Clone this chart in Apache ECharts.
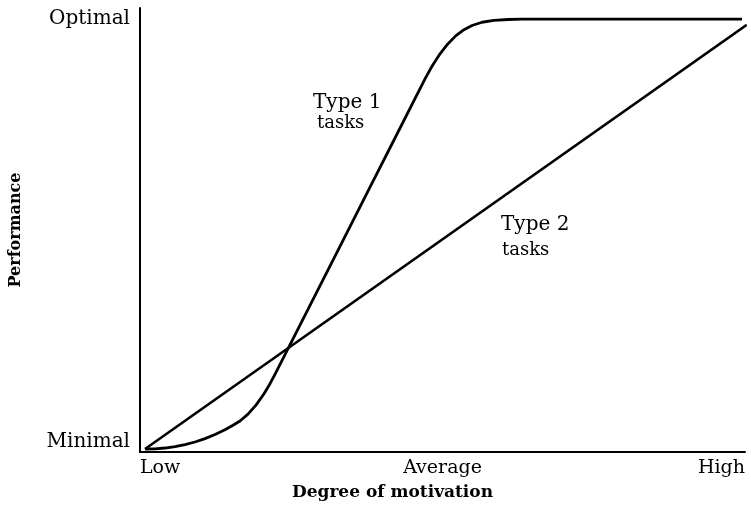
<!DOCTYPE html>
<html>
<head>
<meta charset="utf-8">
<script src="https://cdn.jsdelivr.net/npm/echarts@6/dist/echarts.min.js"></script>
<style>
  html, body { margin: 0; padding: 0; background: #fff; }
  #chart { width: 751px; height: 516px; }
</style>
</head>
<body>
<div id="chart"></div>
<script>
// motivation (0 = low, 100 = high) vs performance (0 = minimal, 100 = optimal)
const type1Points = [
    [0.83, 0.69], [2.48, 0.74], [4.13, 0.92], [5.79, 1.25], [7.44, 1.71],
    [9.09, 2.31], [10.74, 3.09], [12.40, 4.04], [14.05, 5.15], [15.37, 6.17],
    [16.53, 7.16], [17.85, 8.73], [19.17, 10.81], [20.50, 13.44], [21.49, 15.77],
    [22.31, 17.94], [26.78, 30.23], [33.06, 47.48], [38.02, 61.13], [42.15, 72.49],
    [47.11, 86.14], [48.26, 89.05], [49.59, 91.92], [50.91, 94.27], [52.23, 96.12],
    [53.55, 97.48], [54.88, 98.45], [56.53, 99.21], [58.51, 99.65], [60.83, 99.84],
    [63.14, 99.91], [99.50, 99.91]
];
const type2Points = [[0.83, 0.69], [100.3, 98.6]];

const xTickValues = [0, 50, 100];
const xTickLabels = ['Low', 'Average', 'High'];
const yTickValues = [2.3, 100];
const yTickLabels = ['Minimal', 'Optimal'];

const serif = '"DejaVu Serif", "Liberation Serif", serif';

function getOption() {
    return {
        animation: false,
        grid: { left: 140, right: 6, top: 8, bottom: 64 },
        xAxis: {
            type: 'value',
            min: 0,
            max: 100,
            name: 'Degree of motivation',
            nameLocation: 'middle',
            nameGap: 32,
            nameTextStyle: {
                fontFamily: serif, fontSize: 17, fontWeight: 'bold', color: '#000',
                padding: [0, 100, 0, 0]
            },
            axisLine: { lineStyle: { color: '#000', width: 2 } },
            axisTick: { show: false },
            splitLine: { show: false },
            axisLabel: {
                customValues: xTickValues,
                formatter: (v) => xTickLabels[xTickValues.indexOf(v)],
                alignMinLabel: 'left',
                alignMaxLabel: 'right',
                margin: 7,
                fontFamily: serif, fontSize: 19, color: '#000'
            }
        },
        yAxis: {
            type: 'value',
            min: 0,
            max: 102.5,
            name: 'Performance',
            nameLocation: 'middle',
            nameGap: 116,
            nameRotate: 90,
            nameTextStyle: { fontFamily: serif, fontSize: 16, fontWeight: 'bold', color: '#000' },
            axisLine: { lineStyle: { color: '#000', width: 2 } },
            axisTick: { show: false },
            splitLine: { show: false },
            axisLabel: {
                customValues: yTickValues,
                formatter: (v) => yTickLabels[yTickValues.indexOf(v)],
                margin: 10,
                fontFamily: serif, fontSize: 20, color: '#000'
            }
        },
        graphic: [
            { type: 'text', left: 313, top: 93, style: { text: 'Type 1', font: '20px ' + serif, fill: '#000' } },
            { type: 'text', left: 317, top: 114, style: { text: 'tasks', font: '18px ' + serif, fill: '#000' } },
            { type: 'text', left: 501, top: 215, style: { text: 'Type 2', font: '20px ' + serif, fill: '#000' } },
            { type: 'text', left: 502, top: 241, style: { text: 'tasks', font: '18px ' + serif, fill: '#000' } }
        ],
        series: [
            {
                name: 'Type 1 tasks',
                type: 'line',
                data: type1Points,
                showSymbol: false,
                lineStyle: { color: '#000', width: 2.8, join: 'round' }
            },
            {
                name: 'Type 2 tasks',
                type: 'line',
                data: type2Points,
                showSymbol: false,
                lineStyle: { color: '#000', width: 2.6 }
            }
        ]
    };
}

const myChart = echarts.init(document.getElementById('chart'));
myChart.setOption(getOption());
</script>
</body>
</html>
